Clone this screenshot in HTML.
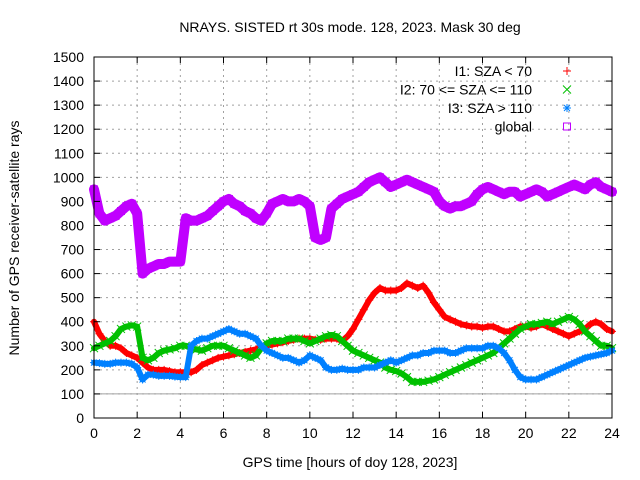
<!DOCTYPE html>
<html><head><meta charset="utf-8"><style>
body{margin:0;background:#fff}
svg{display:block;font-family:"Liberation Sans",sans-serif}
</style></head><body>
<svg id="chart" width="640" height="480">
<rect width="640" height="480" fill="#fff"/>
<text x="350" y="32" font-size="14" text-anchor="middle">NRAYS. SISTED rt 30s mode. 128, 2023. Mask 30 deg</text>
<g id="grid"></g>
<g id="series"></g>
<g id="axes"></g>
<text x="350" y="467" font-size="14" text-anchor="middle">GPS time [hours of doy 128, 2023]</text>
<text transform="translate(19,238) rotate(-90)" font-size="14" text-anchor="middle">Number of GPS receiver-satellite rays</text>
<g id="legend"></g>
</svg>
<script>
const xTicks=[0,2,4,6,8,10,12,14,16,18,20,22,24];
const yTicks=[0,100,200,300,400,500,600,700,800,900,1000,1100,1200,1300,1400,1500];
const hours=[];for(let i=0;i<=96;i++)hours.push(i*0.25);
const i1=[400,350,320,300,300,290,270,260,250,230,210,200,200,200,195,190,190,190,190,200,220,230,240,250,255,260,265,270,275,280,285,295,300,305,310,315,320,325,330,330,330,325,325,330,330,330,320,340,370,410,450,490,520,540,530,530,530,540,560,550,540,550,520,480,450,420,410,400,390,385,380,380,375,380,380,370,360,360,370,380,380,375,380,390,380,370,360,350,340,350,360,370,390,400,390,370,360];
const i2=[290,300,310,320,340,370,380,385,380,250,240,250,270,280,285,290,300,300,290,285,280,290,300,300,300,290,280,270,260,250,260,290,310,320,320,320,330,330,330,320,310,320,330,340,345,340,320,300,280,270,260,250,240,230,210,200,195,185,170,150,150,150,155,160,170,180,190,200,210,220,230,240,250,260,270,290,310,330,350,370,380,390,390,395,400,390,400,410,420,410,390,360,340,320,300,300,290];
const i3=[230,228,225,225,230,230,230,225,210,160,180,180,175,175,175,172,170,170,300,320,330,330,340,350,360,370,360,350,350,340,330,300,280,270,260,250,250,240,230,240,260,250,240,210,200,200,205,200,200,200,210,210,210,220,230,240,230,240,250,260,260,270,270,280,280,280,270,270,280,290,290,290,290,300,300,290,270,240,200,170,160,160,160,170,180,190,200,210,220,230,240,250,255,260,265,270,280];
const glob=[950,850,820,830,840,860,880,890,850,600,620,630,640,640,650,650,650,830,820,820,830,840,860,880,900,910,890,880,860,850,830,820,850,890,900,910,900,900,910,900,880,750,740,750,870,890,910,920,930,940,960,980,990,1000,980,960,970,980,990,980,970,960,950,940,900,880,870,880,880,890,900,930,950,960,950,940,930,940,940,920,930,940,950,940,920,930,940,950,960,970,960,950,970,980,960,950,940];
const legendLabels=["I1: SZA < 70","I2: 70 <= SZA <= 110","I3: SZA > 110","global"];
const NS="http://www.w3.org/2000/svg";
const X0=94,X1=612,Y0=418,Y1=57;
const xs=v=>X0+(v-0)/24*(X1-X0);
const ys=v=>Y0-(v-0)/1500*(Y0-Y1);
function mk(tag,attrs,parent){const e=document.createElementNS(NS,tag);for(const k in attrs)e.setAttribute(k,attrs[k]);parent.appendChild(e);return e;}
const grid=document.getElementById('grid'),axes=document.getElementById('axes'),ser=document.getElementById('series'),leg=document.getElementById('legend');
xTicks.forEach(t=>{
 const g=mk('line',{x1:xs(t),x2:xs(t),y1:Y1,y2:Y0,stroke:'#a0a0a0','stroke-dasharray':'2,4','stroke-width':1},grid);
 
 
 const tl=mk('text',{x:xs(t),y:Y0+20,'font-size':14,'text-anchor':'middle'},axes);tl.textContent=t;
 
 
 mk('line',{x1:xs(t),x2:xs(t),y1:Y0,y2:Y0-6,stroke:'#000'},axes);
 mk('line',{x1:xs(t),x2:xs(t),y1:Y1,y2:Y1+6,stroke:'#000'},axes);
});
yTicks.forEach(t=>{
 const g=mk('line',{x1:X0,x2:X1,y1:ys(t),y2:ys(t),stroke:'#a0a0a0','stroke-dasharray':'2,4','stroke-width':1},grid);
 
 
 const tl=mk('text',{x:X0-10,y:ys(t)+5,'font-size':14,'text-anchor':'end'},axes);tl.textContent=t;
 
 
 mk('line',{x1:X0,x2:X0+6,y1:ys(t),y2:ys(t),stroke:'#000'},axes);
 mk('line',{x1:X1,x2:X1-6,y1:ys(t),y2:ys(t),stroke:'#000'},axes);
});
const ref=mk('line',{x1:X0,x2:X1,y1:ys(100),y2:ys(100),stroke:'#a0a0a0'},grid);


const fr=mk('rect',{x:X0,y:Y1,width:X1-X0,height:Y0-Y1,fill:'none',stroke:'#000'},axes);


function marker(type,x,y,c,p){
 if(type==0){mk('path',{d:`M${x-4} ${y}h8M${x} ${y-4}v8`,stroke:c,fill:'none'},p);}
 else if(type==1){mk('path',{d:`M${x-4} ${y-4}l8 8M${x-4} ${y+4}l8 -8`,stroke:c,fill:'none'},p);}
 else if(type==2){mk('path',{d:`M${x-4} ${y}h8M${x} ${y-4}v8M${x-3} ${y-3}l6 6M${x-3} ${y+3}l6 -6`,stroke:c,fill:'none'},p);}
 else {mk('rect',{x:x-3.5,y:y-3.5,width:7,height:7,stroke:c,fill:'none'},p);}
}
const cols=['#ff0000','#00c000','#0080ff','#c000ff'];
const sets=[i1,i2,i3,glob];
const names=['series-i1','series-i2','series-i3','series-global'];
sets.forEach((arr,si)=>{
 const g=mk('g',{},ser);
 
 
 const pts=arr.map((v,i)=>xs(hours[i])+','+ys(v)).join(' ');
 mk('polyline',{points:pts,fill:'none',stroke:cols[si],'stroke-width':si==3?10:6,'stroke-linejoin':'round','stroke-linecap':'round'},g);
 arr.forEach((v,i)=>marker(si,xs(hours[i]),ys(v),cols[si],g));
});
legendLabels.forEach((l,i)=>{
 const y=71+i*18.5;
 const t=mk('text',{x:532,y:y+5,'font-size':14,'text-anchor':'end'},leg);t.textContent=l;
 
 
 marker(i,567,y,cols[i],leg);
});
</script>
</body></html>
